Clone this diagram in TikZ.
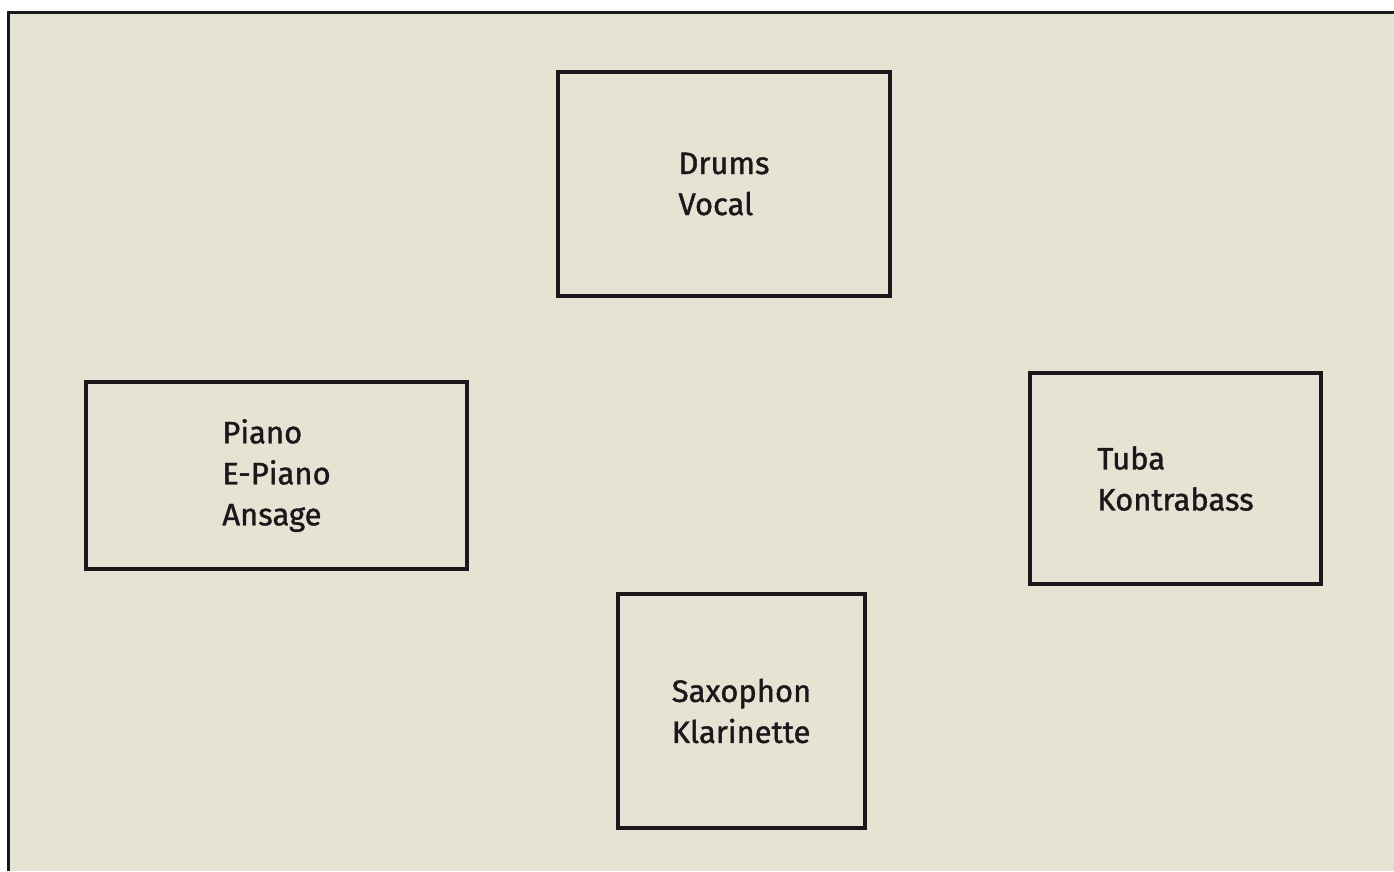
\documentclass[tikz,border=0pt]{standalone}
\usepackage{fontspec}
\setmainfont{Fira Sans}[FakeBold=1.2,UprightFeatures={FakeBold=1.2}]
\usepackage{tikz}
\definecolor{stagebg}{RGB}{230,227,211}
\definecolor{inkdark}{RGB}{26,24,28}

\begin{document}
\begin{tikzpicture}[x=1pt,y=-1pt,every node/.style={draw=inkdark,line width=3.5pt,rectangle,align=left,text=inkdark,font=\fontsize{31}{41}\selectfont,inner sep=0pt}]
            \useasboundingbox (0,0) rectangle (1394,871);
            \fill [stagebg] (8,12) rectangle (1394,871);
            \draw [inkdark,line width=3pt] (8,871) -- (8,12) -- (1394,12);

            \node (drums) [minimum width=332pt,minimum height=224pt] at (724,184) {Drums\\Vocal};
            \node (piano) [minimum width=381pt,minimum height=187pt] at (276.5,475.5) {Piano\\E-Piano\\Ansage};
            \node (tuba) [minimum width=291pt,minimum height=211pt] at (1175.5,478.5) {Tuba\\Kontrabass};
            \node (sax) [minimum width=247pt,minimum height=234pt] at (741.5,711) {Saxophon\\Klarinette};
        \end{tikzpicture}
\end{document}
